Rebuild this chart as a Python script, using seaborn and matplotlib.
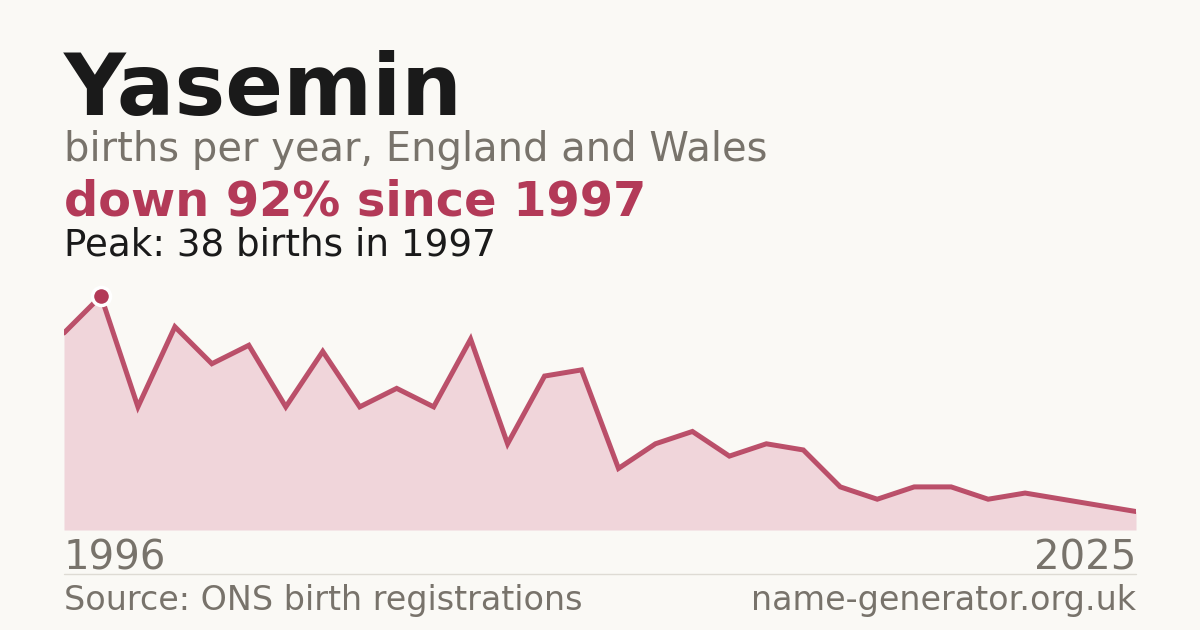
import matplotlib
matplotlib.use("Agg")
import matplotlib.pyplot as plt
import seaborn as sns
import pandas as pd

years = list(range(1996, 2026))
births = [32, 38, 20, 33, 27, 30, 20, 29, 20, 23, 20, 31, 14, 25, 26,
          10, 14, 16, 12, 14, 13, 7, 5, 7, 7, 5, 6, 5, 4, 3]

name = "Yasemin"
subtitle = "births per year, England and Wales"
headline = "down 92% since 1997"
peak_note = "Peak: 38 births in 1997"
source = "Source: ONS birth registrations"
site = "name-generator.org.uk"

bg = "#faf9f5"
red = "#b33a58"
fill = "#f0d5da"
grey = "#78736b"
dark = "#1a1a1a"

sns.set_style("white")
plt.rcParams["font.family"] = ["DejaVu Sans"]

df = pd.DataFrame({"year": years, "births": births})

fig = plt.figure(figsize=(12, 6.3), dpi=100, facecolor=bg)
ax = fig.add_axes([64 / 1200, 100 / 630, 1072 / 1200, 234 / 630])
ax.set_facecolor(bg)

ax.fill_between(df["year"], df["births"], 0, color=fill, linewidth=0)
sns.lineplot(data=df, x="year", y="births", ax=ax, color=red, linewidth=3.6,
             alpha=0.88, solid_joinstyle="miter")

# peak marker
peak_i = df["births"].idxmax()
ax.plot(df["year"][peak_i], df["births"][peak_i], "o", color=red, markersize=13,
        markeredgecolor="white", markeredgewidth=2.5, clip_on=False, zorder=5)

ax.set_xlim(years[0], years[-1])
ax.set_ylim(0, max(births))
ax.axis("off")

fig.text(64 / 1200, 1 - 115 / 630, name, fontsize=61.5, fontweight="bold",
         color=dark, va="baseline")
fig.text(64 / 1200, 1 - 161 / 630, subtitle, fontsize=28.8, color=grey, va="baseline")
fig.text(64 / 1200, 1 - 215 / 630, headline, fontsize=34.5, fontweight="bold",
         color=red, va="baseline")
fig.text(64 / 1200, 1 - 255 / 630, peak_note, fontsize=26.8, color=dark, va="baseline")

fig.text(64 / 1200, 1 - 569 / 630, str(years[0]), fontsize=28.9, color=grey, va="baseline")
fig.text(1136 / 1200, 1 - 569 / 630, str(years[-1]), fontsize=28.9, color=grey,
         va="baseline", ha="right")

fig.add_artist(plt.Line2D([64 / 1200, 1136 / 1200], [1 - 574 / 630, 1 - 574 / 630],
                          color="#dedbd4", linewidth=1))

fig.text(64 / 1200, 1 - 610 / 630, source, fontsize=24, color=grey, va="baseline")
fig.text(1136 / 1200, 1 - 610 / 630, site, fontsize=24, color=grey, va="baseline",
         ha="right")

fig.savefig("out.png", dpi=100, facecolor=bg)
